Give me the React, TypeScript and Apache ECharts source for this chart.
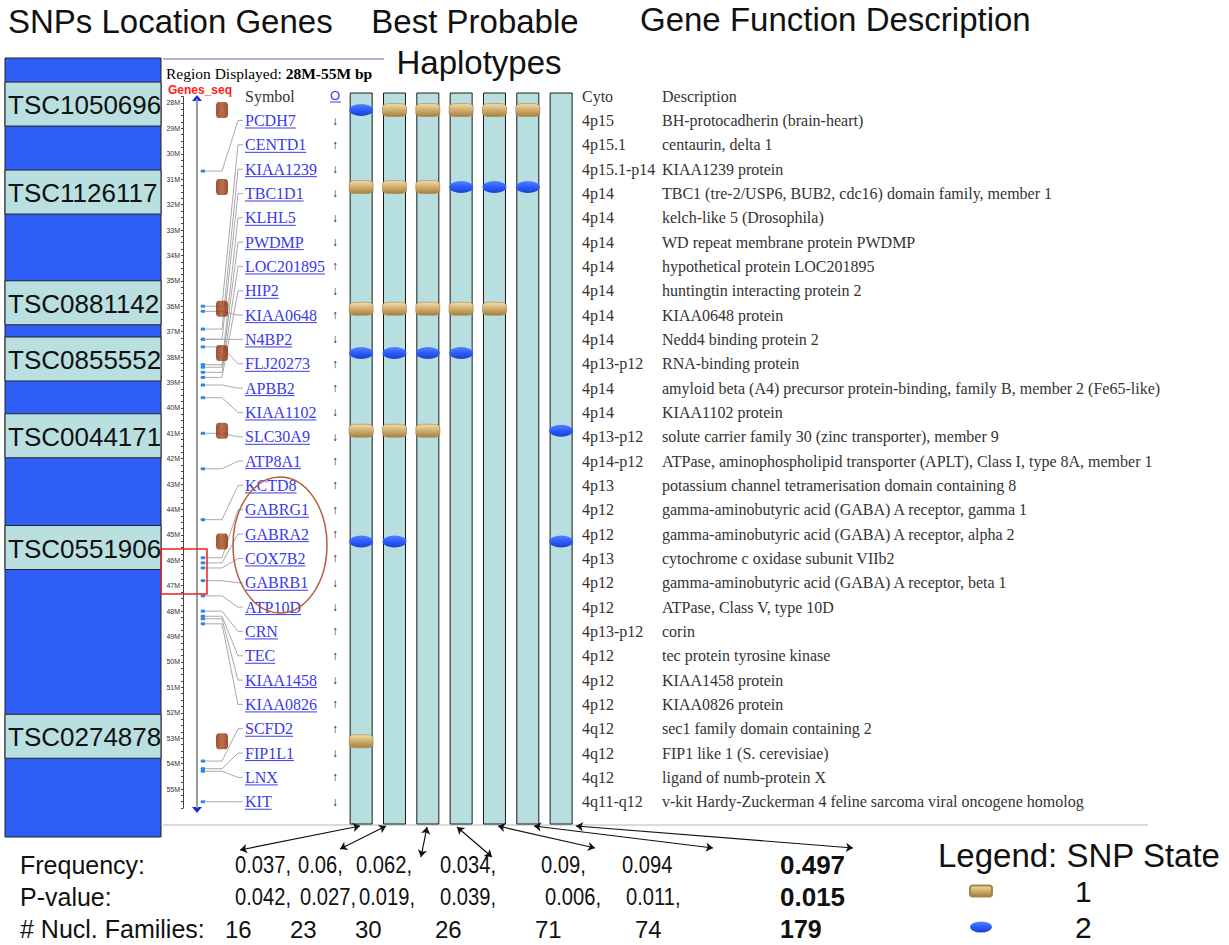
import React, { useEffect, useRef } from "react";
import * as echarts from "echarts";

// ---------------- DATA ----------------
const snpIds = ["TSC1050696", "TSC1126117", "TSC0881142", "TSC0855552", "TSC0044171", "TSC0551906", "TSC0274878"];
const snpPosMb = [28.28, 31.31, 36.1, 37.84, 40.9, 45.26, 53.12];
const haplotypes = ["H1", "H2", "H3", "H4", "H5", "H6", "H7"];
// rows = SNPs, columns = haplotypes; 1 / 2 = SNP state, 0 = not shown
const hapStates = [
  [2, 1, 1, 1, 1, 1, 0],
  [1, 1, 1, 2, 2, 2, 0],
  [1, 1, 1, 1, 1, 0, 0],
  [2, 2, 2, 2, 0, 0, 0],
  [1, 1, 1, 0, 0, 0, 2],
  [2, 2, 0, 0, 0, 0, 2],
  [1, 0, 0, 0, 0, 0, 0],
];
const frequency = [0.037, 0.06, 0.062, 0.034, 0.09, 0.094, 0.497];
const pValue = [0.042, 0.027, 0.019, 0.039, 0.006, 0.011, 0.015];
const nuclFamilies = [16, 23, 30, 26, 71, 74, 179];

const geneSymbols = ["PCDH7", "CENTD1", "KIAA1239", "TBC1D1", "KLHL5", "PWDMP", "LOC201895", "HIP2", "KIAA0648", "N4BP2", "FLJ20273", "APBB2", "KIAA1102", "SLC30A9", "ATP8A1", "KCTD8", "GABRG1", "GABRA2", "COX7B2", "GABRB1", "ATP10D", "CRN", "TEC", "KIAA1458", "KIAA0826", "SCFD2", "FIP1L1", "LNX", "KIT"];
const geneStrand = ["-", "+", "-", "-", "-", "-", "+", "-", "+", "-", "+", "+", "-", "-", "+", "+", "+", "+", "+", "-", "-", "+", "+", "-", "+", "+", "-", "+", "-"];
const geneCyto = ["4p15", "4p15.1", "4p15.1-p14", "4p14", "4p14", "4p14", "4p14", "4p14", "4p14", "4p14", "4p13-p12", "4p14", "4p14", "4p13-p12", "4p14-p12", "4p13", "4p12", "4p12", "4p13", "4p12", "4p12", "4p13-p12", "4p12", "4p12", "4p12", "4q12", "4q12", "4q12", "4q11-q12"];
const geneDesc = [
  "BH-protocadherin (brain-heart)",
  "centaurin, delta 1",
  "KIAA1239 protein",
  "TBC1 (tre-2/USP6, BUB2, cdc16) domain family, member 1",
  "kelch-like 5 (Drosophila)",
  "WD repeat membrane protein PWDMP",
  "hypothetical protein LOC201895",
  "huntingtin interacting protein 2",
  "KIAA0648 protein",
  "Nedd4 binding protein 2",
  "RNA-binding protein",
  "amyloid beta (A4) precursor protein-binding, family B, member 2 (Fe65-like)",
  "KIAA1102 protein",
  "solute carrier family 30 (zinc transporter), member 9",
  "ATPase, aminophospholipid transporter (APLT), Class I, type 8A, member 1",
  "potassium channel tetramerisation domain containing 8",
  "gamma-aminobutyric acid (GABA) A receptor, gamma 1",
  "gamma-aminobutyric acid (GABA) A receptor, alpha 2",
  "cytochrome c oxidase subunit VIIb2",
  "gamma-aminobutyric acid (GABA) A receptor, beta 1",
  "ATPase, Class V, type 10D",
  "corin",
  "tec protein tyrosine kinase",
  "KIAA1458 protein",
  "KIAA0826 protein",
  "sec1 family domain containing 2",
  "FIP1 like 1 (S. cerevisiae)",
  "ligand of numb-protein X",
  "v-kit Hardy-Zuckerman 4 feline sarcoma viral oncogene homolog",
];
const genePosMb = [30.68, 36.0, 36.9, 37.3, 38.3, 38.4, 38.6, 38.8, 36.2, 37.3, 37.6, 39.1, 39.6, 41.0, 42.4, 44.4, 45.9, 46.1, 46.3, 46.8, 47.4, 48.0, 48.2, 48.3, 48.5, 53.9, 54.2, 54.3, 55.5];

// ---------------- LAYOUT ----------------
const W = 1229;
const H = 945;
const Y_MIN = 27.75;
const Y_MAX = 55.75;
const PX_PER_MB = 25.41;
const MAP_TOP = 96.6;
const MAP_H = (Y_MAX - Y_MIN) * PX_PER_MB;
const mbToY = (v: number) => MAP_TOP + (v - Y_MIN) * PX_PER_MB;
const ROW_H = 24.33;
const ROW_TOP = 120.5 - ROW_H / 2;
const HAP_LEFT = 344.5;
const HAP_W = 233.3;
const COL_TOP = 92.5;
const COL_BOTTOM = 824.5;
const LABEL_SHIFT = [-6, 5, -6, 6, 5, 6, -5];
const SANS = "'Liberation Sans', Arial, sans-serif";
const SERIF = "'Liberation Serif', 'Times New Roman', serif";
const FREQ_X = [235, 298, 356, 440, 541, 622, 780];
const P_X = [235, 300, 359, 440, 545, 626, 780];
const FAM_X = [225, 290, 355, 435, 535, 635, 780];
const FREQ_SEP = [",", ",", ",", ",", ",", "", ""];
const P_SEP = [",", ",", ",", ",", ",", ",", ""];
const ARROW_START = [[360, 826], [386, 826], [427, 827], [457, 827], [498, 826], [534, 826], [576, 826]];
const ARROW_END = [[240, 850], [340, 849], [421, 857], [492, 857], [595, 848], [713, 848], [853, 848]];

let measureCtx: CanvasRenderingContext2D | null = null;
function textWidth(text: string, font: string) {
  if (!measureCtx) measureCtx = document.createElement("canvas").getContext("2d");
  if (!measureCtx) return text.length * 8;
  measureCtx.font = font;
  return measureCtx.measureText(text).width;
}

export default function App() {
  const ref = useRef<HTMLDivElement>(null);
  useEffect(() => {
    if (!ref.current) return;
    const chart = echarts.init(ref.current, undefined, { renderer: "svg" });

    const tanGrad = new echarts.graphic.LinearGradient(0, 0, 0, 1, [
      { offset: 0, color: "#f0dfae" },
      { offset: 0.45, color: "#d3b273" },
      { offset: 1, color: "#a5803f" },
    ]);
    const blueGrad = new echarts.graphic.LinearGradient(0, 0, 0, 1, [
      { offset: 0, color: "#5580ff" },
      { offset: 0.5, color: "#2c5cff" },
      { offset: 1, color: "#1b3fc8" },
    ]);
    const brownGrad = new echarts.graphic.LinearGradient(0, 0, 1, 0, [
      { offset: 0, color: "#7c2a08" },
      { offset: 0.5, color: "#b04a1a" },
      { offset: 1, color: "#7a2806" },
    ]);

    const state1: number[][] = [];
    const state2: number[][] = [];
    hapStates.forEach((row, i) =>
      row.forEach((s, j) => {
        if (s === 1) state1.push([j, snpPosMb[i]]);
        if (s === 2) state2.push([j, snpPosMb[i]]);
      })
    );

    const symbolFont = `16px ${SERIF}`;
    const tableFont = `16px ${SERIF}`;

    const statTexts: any[] = [];
    const rows = [
      { label: "Frequency:", y: 865, xs: FREQ_X, vals: frequency.map((v, i) => String(v) + FREQ_SEP[i]), narrow: true },
      { label: "P-value:", y: 897, xs: P_X, vals: pValue.map((v, i) => v.toFixed(3) + P_SEP[i]), narrow: true },
      { label: "# Nucl. Families:", y: 929, xs: FAM_X, vals: nuclFamilies.map((v) => String(v)), narrow: false },
    ];
    rows.forEach((r) => {
      statTexts.push({
        type: "text", x: 20, y: r.y,
        style: { text: r.label, fontSize: 25, fontFamily: SANS, fill: "#111", textVerticalAlign: "middle" },
      });
      r.vals.forEach((t, i) => {
        const bold = i === 6;
        statTexts.push({
          type: "text", x: r.xs[i], y: r.y,
          scaleX: bold ? 1 : r.narrow ? 0.84 : 1,
          style: { text: t, fontSize: bold ? (r.narrow ? 26 : 25) : 24, fontFamily: SANS, fontWeight: bold ? "bold" : "normal", fill: "#111", textVerticalAlign: "middle" },
        });
      });
    });

    const option: any = {
      animation: false,
      backgroundColor: "#ffffff",
      legend: {
        orient: "vertical",
        left: 969,
        top: 875,
        height: 70,
        padding: 0,
        itemWidth: 22,
        itemHeight: 11,
        itemGap: 4,
        selectedMode: false,
        data: ["1", "2"],
        textStyle: { fontSize: 30, lineHeight: 32, fontFamily: SANS, color: "#111", padding: [0, 0, 0, 78] },
      },
      grid: [
        { left: 183, top: MAP_TOP, width: 60, height: MAP_H },
        { left: HAP_LEFT, top: COL_TOP, width: HAP_W, height: COL_BOTTOM - COL_TOP },
        { left: HAP_LEFT, top: MAP_TOP, width: HAP_W, height: MAP_H },
        { left: 0, top: ROW_TOP, width: W, height: ROW_H * geneSymbols.length },
        { left: 0, top: 0, width: W, height: H },
      ],
      xAxis: [
        { gridIndex: 0, type: "value", min: 0, max: 60, show: false },
        { gridIndex: 1, type: "category", data: haplotypes, show: false },
        { gridIndex: 2, type: "category", data: haplotypes, show: false },
        { gridIndex: 3, type: "value", min: 0, max: W, show: false },
        { gridIndex: 4, type: "value", min: 0, max: W, show: false },
      ],
      yAxis: [
        {
          gridIndex: 0, type: "value", inverse: true, min: Y_MIN, max: Y_MAX, interval: 0.25,
          axisLine: { show: true, lineStyle: { color: "#444", width: 1 } },
          axisTick: { show: true, length: 2, lineStyle: { color: "#444", width: 1 } },
          axisLabel: {
            formatter: (v: number) => (Math.abs(v - Math.round(v)) < 1e-6 ? Math.round(v) + "M" : ""),
            fontSize: 7, color: "#333", margin: 3, fontFamily: SANS,
          },
          splitLine: { show: false },
        },
        { gridIndex: 1, type: "value", min: 0, max: 1, show: false },
        { gridIndex: 2, type: "value", inverse: true, min: Y_MIN, max: Y_MAX, show: false },
        { gridIndex: 3, type: "category", data: geneSymbols, inverse: true, show: false },
        { gridIndex: 4, type: "value", inverse: true, min: 0, max: H, show: false },
      ],
      series: [
        {
          type: "bar", name: "columns", xAxisIndex: 1, yAxisIndex: 1, silent: true,
          data: haplotypes.map(() => 1), barWidth: 23,
          itemStyle: { color: "#b8dfe0", borderColor: "#1a1a1a", borderWidth: 1 },
          z: 2,
        },
        {
          type: "scatter", name: "1", xAxisIndex: 2, yAxisIndex: 2, data: state1,
          symbol: "roundRect", symbolSize: [24, 13],
          itemStyle: { color: tanGrad, borderColor: "#a68546", borderWidth: 0.6, opacity: 1 },
          z: 5,
        },
        {
          type: "scatter", name: "2", xAxisIndex: 2, yAxisIndex: 2, data: state2,
          symbol: "path://M0,10 A20,10 0 1,0 40,10 A20,10 0 1,0 0,10 Z", symbolSize: [24, 12],
          itemStyle: { color: blueGrad, opacity: 1 },
          z: 5,
        },
        {
          type: "scatter", name: "snp", xAxisIndex: 0, yAxisIndex: 0,
          data: snpPosMb.map((v) => [39, v]),
          symbol: "roundRect", symbolSize: [12, 16],
          itemStyle: { color: brownGrad }, z: 6,
        },
        {
          type: "custom", name: "connectors", xAxisIndex: 0, yAxisIndex: 0,
          data: genePosMb.map((v, i) => [i, v]),
          renderItem: (params: any, api: any) => {
            const idx = params.dataIndex;
            const pos = api.value(1);
            const p = api.coord([17, pos]);
            const q = api.coord([39, pos]);
            const rowY = ROW_TOP + (idx + 0.5) * ROW_H;
            return {
              type: "group",
              children: [
                {
                  type: "polyline",
                  shape: { points: [[p[0], p[1]], [q[0], p[1]], [238, rowY], [243, rowY]] },
                  style: { stroke: "#a9a9a9", lineWidth: 1, fill: null },
                },
                {
                  type: "rect",
                  shape: { x: p[0] + 1, y: p[1] - 1.5, width: 4, height: 3 },
                  style: { fill: "#2f8ae6" },
                },
              ],
            };
          },
          z: 3,
        },
        {
          type: "custom", name: "snpLabels", xAxisIndex: 0, yAxisIndex: 0,
          data: snpPosMb.map((v, i) => [i, v]),
          renderItem: (params: any, api: any) => {
            const i = params.dataIndex;
            const c = api.coord([0, api.value(1)]);
            const cy = c[1] + LABEL_SHIFT[i];
            return {
              type: "group",
              children: [
                { type: "rect", shape: { x: 5, y: cy - 22, width: 156, height: 44 }, style: { fill: "#b9dfe1", stroke: "#222", lineWidth: 1 } },
                { type: "text", style: { x: 8, y: cy + 1, text: snpIds[i], fontSize: 26, fontFamily: SANS, fill: "#111", textVerticalAlign: "middle" } },
              ],
            };
          },
          z: 4,
        },
        {
          type: "custom", name: "table", xAxisIndex: 3, yAxisIndex: 3,
          data: geneSymbols.map((s, i) => [0, i]),
          encode: { x: 0, y: 1 },
          renderItem: (params: any, api: any) => {
            const i = params.dataIndex;
            const y = api.coord([0, i])[1];
            const sw = textWidth(geneSymbols[i], symbolFont);
            return {
              type: "group",
              children: [
                { type: "text", style: { x: 245, y, text: geneSymbols[i], font: symbolFont, fill: "#3a3ae6", textVerticalAlign: "middle" } },
                { type: "line", shape: { x1: 245, y1: y + 7.5, x2: 245 + sw, y2: y + 7.5 }, style: { stroke: "#3a3ae6", lineWidth: 1 } },
                { type: "text", style: { x: 335, y, text: geneStrand[i] === "+" ? "↑" : "↓", font: `bold 12px ${SANS}`, fill: "#111", textAlign: "center", textVerticalAlign: "middle" } },
                { type: "text", style: { x: 582, y, text: geneCyto[i], font: tableFont, fill: "#333", textVerticalAlign: "middle" } },
                { type: "text", style: { x: 662, y, text: geneDesc[i], font: tableFont, fill: "#333", textVerticalAlign: "middle" } },
              ],
            };
          },
          z: 4,
        },
        {
          type: "lines", name: "arrows", coordinateSystem: "cartesian2d", xAxisIndex: 4, yAxisIndex: 4,
          data: ARROW_START.map((s, i) => ({ coords: [s, ARROW_END[i]] })),
          symbol: ["arrow", "arrow"], symbolSize: 7,
          lineStyle: { color: "#111", width: 1.2, opacity: 1 },
          z: 6,
        },
      ],
      graphic: [
        // left panel
        { type: "rect", z: -1, shape: { x: 5, y: 58, width: 156, height: 779 }, style: { fill: "#2f5ef6", stroke: "#222", lineWidth: 1 } },
        // titles
        { type: "text", x: 8, y: 21, style: { text: "SNPs Location Genes", fontSize: 33, fontFamily: SANS, fill: "#111", textVerticalAlign: "middle" } },
        { type: "text", x: 475, y: 21, style: { text: "Best Probable", fontSize: 33, fontFamily: SANS, fill: "#111", textAlign: "center", textVerticalAlign: "middle" } },
        { type: "text", x: 479, y: 62, style: { text: "Haplotypes", fontSize: 33, fontFamily: SANS, fill: "#111", textAlign: "center", textVerticalAlign: "middle" } },
        { type: "text", x: 640, y: 19, style: { text: "Gene Function Description", fontSize: 33, fontFamily: SANS, fill: "#111", textVerticalAlign: "middle" } },
        // browser header
        { type: "line", shape: { x1: 163, y1: 59, x2: 384, y2: 59 }, style: { stroke: "#9a9ac8", lineWidth: 1.5 } },
        {
          type: "text", x: 166, y: 73,
          style: {
            text: "{a|Region Displayed: }{b|28M-55M bp}", textVerticalAlign: "middle",
            rich: { a: { fontSize: 15.5, fontFamily: SERIF, color: "#333" }, b: { fontSize: 15.5, fontFamily: SERIF, fontWeight: "bold", color: "#111" } },
          },
        },
        { type: "text", x: 168, y: 90, style: { text: "Genes_seq", font: `bold 12px ${SANS}`, fill: "#ff2020", textVerticalAlign: "middle" } },
        { type: "text", x: 245, y: 96, style: { text: "Symbol", font: tableFont, fill: "#333", textVerticalAlign: "middle" } },
        { type: "text", x: 335, y: 95, style: { text: "O", font: `13px ${SANS}`, fill: "#3a3ae6", textAlign: "center", textVerticalAlign: "middle" } },
        { type: "line", shape: { x1: 330, y1: 102, x2: 341, y2: 102 }, style: { stroke: "#3a3ae6", lineWidth: 1 } },
        { type: "text", x: 582, y: 96, style: { text: "Cyto", font: tableFont, fill: "#333", textVerticalAlign: "middle" } },
        { type: "text", x: 662, y: 96, style: { text: "Description", font: tableFont, fill: "#333", textVerticalAlign: "middle" } },
        // gene track
        { type: "line", z: 1, shape: { x1: 197, y1: 99, x2: 197, y2: 808 }, style: { stroke: "#9a9a9a", lineWidth: 2 } },
        { type: "polygon", shape: { points: [[192, 101], [202, 101], [197, 95]] }, style: { fill: "#1030e0" } },
        { type: "polygon", shape: { points: [[192, 807], [202, 807], [197, 813]] }, style: { fill: "#1030e0" } },
        // highlight annotations
        { type: "rect", z: 10, shape: { x: 161, y: mbToY(45.55), width: 46, height: 45 }, style: { fill: "none", stroke: "#e82020", lineWidth: 1.5 } },
        { type: "ellipse", z: 10, shape: { cx: 280, cy: 545, rx: 47, ry: 68 }, style: { fill: "none", stroke: "#b2603c", lineWidth: 1.5 } },
        // bottom rule
        { type: "line", shape: { x1: 163, y1: 825, x2: 1148, y2: 825 }, style: { stroke: "#cfcfcf", lineWidth: 1.5 } },
        // legend title
        { type: "text", x: 938, y: 855, style: { text: "Legend: SNP State", fontSize: 33, fontFamily: SANS, fill: "#111", textVerticalAlign: "middle" } },
        ...statTexts,
      ],
    };
    chart.setOption(option);
    return () => chart.dispose();
  }, []);
  return <div ref={ref} style={{ position: "absolute", left: 0, top: 0, width: W, height: H }} />;
}
